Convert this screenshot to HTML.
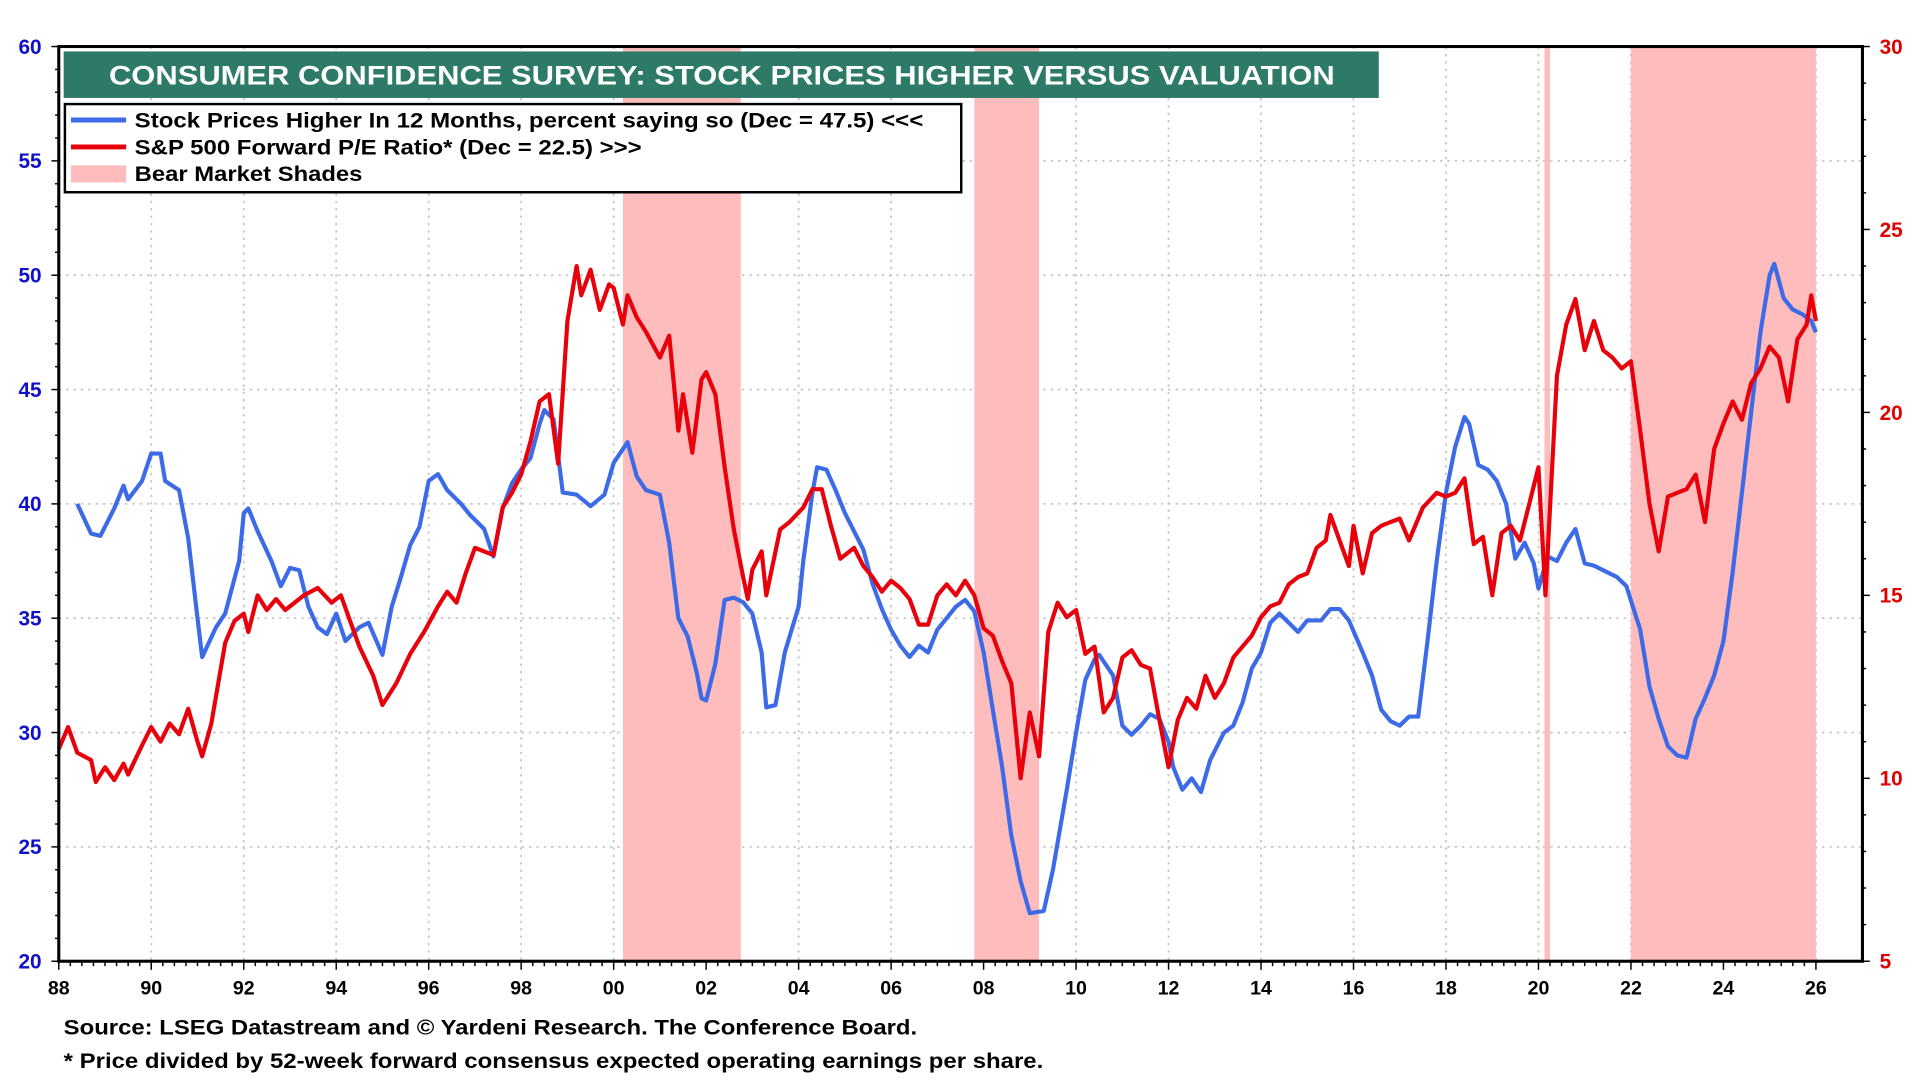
<!DOCTYPE html>
<html><head><meta charset="utf-8"><style>
html,body{margin:0;padding:0;background:#fff;width:1920px;height:1080px;overflow:hidden}
svg{display:block}
text{font-family:"Liberation Sans",Arial,sans-serif;font-weight:bold}
</style></head><body>
<svg id="chart" width="1920" height="1080" viewBox="0 0 1568 882" xmlns="http://www.w3.org/2000/svg">
<g id="grid"></g>
<g id="shades"></g>
<g id="series"></g>
<g id="axes"></g>
<rect x="52" y="42" width="1074" height="38" fill="#2e7a68"/>
<text x="89" y="69" font-size="22" fill="#fff" textLength="1001" lengthAdjust="spacingAndGlyphs">CONSUMER CONFIDENCE SURVEY: STOCK PRICES HIGHER VERSUS VALUATION</text>
<g>
<rect x="53" y="85" width="732" height="72" fill="#fff" stroke="#000" stroke-width="2"/>
<line x1="58" y1="98" x2="103" y2="98" stroke="#3d6be8" stroke-width="4"/>
<text x="110" y="104" font-size="17" textLength="644" lengthAdjust="spacingAndGlyphs">Stock Prices Higher In 12 Months, percent saying so (Dec = 47.5) &lt;&lt;&lt;</text>
<line x1="58" y1="120" x2="103" y2="120" stroke="#e8000b" stroke-width="4"/>
<text x="110" y="126" font-size="17" textLength="414" lengthAdjust="spacingAndGlyphs">S&amp;P 500 Forward P/E Ratio* (Dec = 22.5) &gt;&gt;&gt;</text>
<rect x="58" y="135" width="45" height="14" fill="#ffbcbc"/>
<text x="110" y="148" font-size="17" textLength="186" lengthAdjust="spacingAndGlyphs">Bear Market Shades</text>
</g>
<text x="52" y="845" font-size="17" textLength="697" lengthAdjust="spacingAndGlyphs">Source: LSEG Datastream and © Yardeni Research. The Conference Board.</text>
<text x="52" y="872" font-size="17" textLength="800" lengthAdjust="spacingAndGlyphs">* Price divided by 52-week forward consensus expected operating earnings per share.</text>
</svg>
<script>
const blueDates=[1988.4,1988.7,1988.9,1989.2,1989.4,1989.5,1989.8,1990.0,1990.2,1990.3,1990.6,1990.8,1991.0,1991.1,1991.4,1991.6,1991.9,1992.0,1992.1,1992.3,1992.6,1992.8,1993.0,1993.2,1993.4,1993.6,1993.8,1994.0,1994.2,1994.5,1994.7,1995.0,1995.2,1995.4,1995.6,1995.8,1996.0,1996.2,1996.4,1996.7,1996.9,1997.2,1997.4,1997.6,1997.8,1998.0,1998.2,1998.4,1998.5,1998.7,1998.9,1999.2,1999.5,1999.8,2000.0,2000.3,2000.5,2000.7,2001.0,2001.2,2001.4,2001.6,2001.8,2001.9,2002.0,2002.2,2002.4,2002.6,2002.8,2003.0,2003.2,2003.3,2003.5,2003.7,2004.0,2004.1,2004.3,2004.4,2004.6,2004.8,2005.0,2005.2,2005.4,2005.6,2005.8,2006.0,2006.2,2006.4,2006.6,2006.8,2007.0,2007.2,2007.4,2007.6,2007.8,2008.0,2008.2,2008.4,2008.6,2008.8,2009.0,2009.3,2009.5,2009.8,2010.0,2010.2,2010.4,2010.5,2010.8,2011.0,2011.2,2011.4,2011.6,2011.8,2012.0,2012.1,2012.3,2012.5,2012.7,2012.9,2013.2,2013.4,2013.6,2013.8,2014.0,2014.2,2014.4,2014.6,2014.8,2015.0,2015.3,2015.5,2015.7,2015.9,2016.2,2016.4,2016.6,2016.8,2017.0,2017.2,2017.4,2017.6,2017.8,2018.0,2018.2,2018.4,2018.5,2018.7,2018.9,2019.1,2019.3,2019.5,2019.7,2019.9,2020.0,2020.2,2020.4,2020.6,2020.8,2021.0,2021.2,2021.4,2021.7,2021.9,2022.2,2022.4,2022.6,2022.8,2023.0,2023.2,2023.4,2023.6,2023.8,2024.0,2024.2,2024.4,2024.6,2024.8,2025.0,2025.1,2025.3,2025.5,2025.7,2025.9,2026.0];
const blueValues=[40,38.7,38.6,39.8,40.8,40.2,41.0,42.2,42.2,41.0,40.6,38.5,35,33.3,34.6,35.2,37.5,39.6,39.8,38.8,37.5,36.4,37.2,37.1,35.5,34.6,34.3,35.2,34.0,34.6,34.8,33.4,35.5,36.8,38.2,39.0,41.0,41.3,40.6,40.0,39.5,38.9,37.7,39.8,40.9,41.5,42.0,43.5,44.1,43.7,40.5,40.4,39.9,40.4,41.8,42.7,41.2,40.6,40.4,38.3,35.0,34.2,32.6,31.5,31.4,33.0,35.8,35.9,35.7,35.2,33.5,31.1,31.2,33.5,35.5,37.5,40.5,41.6,41.5,40.6,39.6,38.8,38.0,36.5,35.4,34.5,33.8,33.3,33.8,33.5,34.5,35.0,35.5,35.8,35.3,33.5,31.0,28.5,25.5,23.5,22.1,22.2,24.0,27.5,30.0,32.3,33.2,33.4,32.5,30.3,29.9,30.3,30.8,30.6,29.6,28.5,27.5,28.0,27.4,28.8,30.0,30.3,31.3,32.8,33.5,34.8,35.2,34.8,34.4,34.9,34.9,35.4,35.4,34.9,33.5,32.5,31.0,30.5,30.3,30.7,30.7,34.0,37.5,40.5,42.5,43.8,43.5,41.7,41.5,41.0,40.0,37.6,38.3,37.4,36.3,37.7,37.5,38.3,38.9,37.4,37.3,37.1,36.8,36.4,34.5,32.0,30.6,29.4,29.0,28.9,30.6,31.5,32.5,34.0,37.0,40.5,44.0,47.5,50.0,50.5,49.0,48.5,48.3,48.0,47.5];
const redDates=[1988.0,1988.2,1988.4,1988.7,1988.8,1989.0,1989.2,1989.4,1989.5,1989.8,1990.0,1990.2,1990.4,1990.6,1990.8,1991.0,1991.1,1991.3,1991.6,1991.8,1992.0,1992.1,1992.3,1992.5,1992.7,1992.9,1993.1,1993.3,1993.6,1993.9,1994.1,1994.3,1994.5,1994.8,1995.0,1995.3,1995.6,1995.9,1996.2,1996.4,1996.6,1996.8,1997.0,1997.2,1997.4,1997.6,1997.8,1998.0,1998.2,1998.4,1998.6,1998.8,1999.0,1999.2,1999.3,1999.5,1999.7,1999.9,2000.0,2000.2,2000.3,2000.5,2000.7,2001.0,2001.2,2001.4,2001.5,2001.7,2001.9,2002.0,2002.2,2002.4,2002.6,2002.8,2002.9,2003.0,2003.2,2003.3,2003.6,2003.8,2004.1,2004.3,2004.5,2004.7,2004.9,2005.2,2005.4,2005.6,2005.8,2006.0,2006.2,2006.4,2006.6,2006.8,2007.0,2007.2,2007.4,2007.6,2007.8,2008.0,2008.2,2008.4,2008.6,2008.8,2009.0,2009.2,2009.4,2009.6,2009.8,2010.0,2010.2,2010.4,2010.6,2010.8,2011.0,2011.2,2011.4,2011.6,2011.8,2012.0,2012.2,2012.4,2012.6,2012.8,2013.0,2013.2,2013.4,2013.6,2013.8,2014.0,2014.2,2014.4,2014.6,2014.8,2015.0,2015.2,2015.4,2015.5,2015.7,2015.9,2016.0,2016.2,2016.4,2016.6,2016.8,2017.0,2017.2,2017.5,2017.8,2018.0,2018.2,2018.4,2018.6,2018.8,2019.0,2019.2,2019.4,2019.6,2019.8,2020.0,2020.15,2020.4,2020.6,2020.8,2021.0,2021.2,2021.4,2021.6,2021.8,2022.0,2022.2,2022.4,2022.6,2022.8,2023.0,2023.2,2023.4,2023.6,2023.8,2024.0,2024.2,2024.4,2024.6,2024.8,2025.0,2025.2,2025.4,2025.6,2025.8,2025.9,2026.0];
const redValues=[10.8,11.4,10.7,10.5,9.9,10.3,9.95,10.4,10.1,10.9,11.4,11.0,11.5,11.2,11.9,11.0,10.6,11.5,13.7,14.3,14.5,14.0,15.0,14.6,14.9,14.6,14.8,15.0,15.2,14.8,15.0,14.3,13.6,12.8,12.0,12.6,13.4,14.0,14.7,15.1,14.8,15.6,16.3,16.2,16.1,17.4,17.8,18.3,19.2,20.3,20.5,18.6,22.5,24.0,23.2,23.9,22.8,23.5,23.4,22.4,23.2,22.6,22.2,21.5,22.1,19.5,20.5,18.9,20.9,21.1,20.5,18.5,16.8,15.5,14.9,15.7,16.2,15.0,16.8,17.0,17.4,17.9,17.9,16.9,16.0,16.3,15.8,15.5,15.1,15.4,15.2,14.9,14.2,14.2,15.0,15.3,15.0,15.4,15.0,14.1,13.9,13.2,12.6,10.0,11.8,10.6,14.0,14.8,14.4,14.6,13.4,13.6,11.8,12.2,13.3,13.5,13.1,13.0,11.6,10.3,11.6,12.2,11.9,12.8,12.2,12.6,13.3,13.6,13.9,14.4,14.7,14.8,15.3,15.5,15.6,16.3,16.5,17.2,16.5,15.8,16.9,15.6,16.7,16.9,17.0,17.1,16.5,17.4,17.8,17.7,17.8,18.2,16.4,16.6,15.0,16.7,16.9,16.5,17.5,18.5,15.0,21.0,22.4,23.1,21.7,22.5,21.7,21.5,21.2,21.4,19.5,17.5,16.2,17.7,17.8,17.9,18.3,17.0,19.0,19.7,20.3,19.8,20.8,21.2,21.8,21.5,20.3,22.0,22.4,23.2,22.5];
const shadeStarts=[2000.2,2007.8,2020.13,2022.0];
const shadeEnds=[2002.75,2009.2,2020.25,2026.0];
const leftTicks=[20,25,30,35,40,45,50,55,60];
const rightTicks=[5,10,15,20,25,30];
const xTickYears=[1988,1990,1992,1994,1996,1998,2000,2002,2004,2006,2008,2010,2012,2014,2016,2018,2020,2022,2024,2026];

const NS="http://www.w3.org/2000/svg";
const L=48,R=1521,T=38,B=785;
function xs(y){return L+(y-1988)*(1483-48)/38;}
function yl(v){return B-(v-20)*(B-T)/40;}
function yr(v){return B-(v-5)*(B-T)/25;}
function mk(tag,attrs,parent){const e=document.createElementNS(NS,tag);for(const k in attrs)e.setAttribute(k,attrs[k]);parent.appendChild(e);return e;}
const grid=document.getElementById('grid'),shades=document.getElementById('shades'),series=document.getElementById('series'),axes=document.getElementById('axes');

leftTicks.forEach(v=>{if(v===20||v===60)return;
 const g=mk('line',{x1:L,x2:R,y1:yl(v),y2:yl(v),stroke:'#c8c8c8','stroke-width':1.5,'stroke-dasharray':'2 4'},grid);
 
 });
xTickYears.forEach(y=>{if(y===1988)return;
 const g=mk('line',{x1:xs(y),x2:xs(y),y1:T,y2:B,stroke:'#c8c8c8','stroke-width':1.5,'stroke-dasharray':'2 4'},grid);
 
 });

shadeStarts.forEach((s,i)=>{
 const r=mk('rect',{x:xs(s),y:T,width:xs(shadeEnds[i])-xs(s),height:B-T,fill:'#ffbcbc'},shades);
 
 });

function pathOf(dates,vals,f){return dates.map((d,i)=>(i?'L':'M')+xs(d).toFixed(1)+','+f(vals[i]).toFixed(1)).join('');}
const pb=mk('path',{d:pathOf(blueDates,blueValues,yl),fill:'none',stroke:'#3d6be8','stroke-width':3.4,'stroke-linejoin':'round'},series);


const pr=mk('path',{d:pathOf(redDates,redValues,yr),fill:'none',stroke:'#e8000b','stroke-width':3.4,'stroke-linejoin':'round'},series);



const fr=mk('rect',{x:L,y:T,width:R-L,height:B-T,fill:'none',stroke:'#000','stroke-width':2.5},axes);


for(let v=20;v<=60;v++){const big=v%5===0;mk('line',{x1:L-(big?6:3),x2:L,y1:yl(v),y2:yl(v),stroke:'#000','stroke-width':1.2},axes);}
for(let v=5;v<=30;v++){const big=v%5===0;mk('line',{x1:R,x2:R+(big?6:3),y1:yr(v),y2:yr(v),stroke:'#000','stroke-width':1.2},axes);}
for(let m=0;m<=38*4;m++){const y=1988+m/4;const big=(m%8===0);mk('line',{x1:xs(y),x2:xs(y),y1:B,y2:B+(big?7:4),stroke:'#000','stroke-width':1.2},axes);}
leftTicks.forEach(v=>{const t=mk('text',{x:34,y:yl(v)+6,'text-anchor':'end','font-size':17,fill:'#1010c8'},axes);t.textContent=v;
 
 });
rightTicks.forEach(v=>{const t=mk('text',{x:1535,y:yr(v)+6,'font-size':17,fill:'#e00000'},axes);t.textContent=v;
 
 });
xTickYears.forEach(y=>{const t=mk('text',{x:xs(y),y:812,'text-anchor':'middle','font-size':16,fill:'#000'},axes);t.textContent=String(y%100).padStart(2,'0');
 
 });
</script>
</body></html>
